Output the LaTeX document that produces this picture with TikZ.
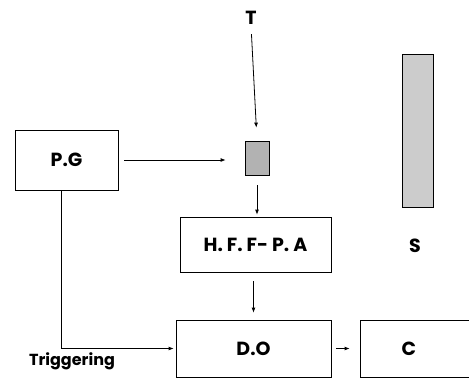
\documentclass[tikz,border=0pt]{standalone}
\usepackage{fontspec}
\setmainfont{Poppins}
\usetikzlibrary{arrows.meta}

\begin{document}
\begin{tikzpicture}[x=1pt,y=-1pt,line width=0.8pt,
  box/.style={draw,inner sep=0pt},
  lbl/.style={inner sep=0pt,font=\fontsize{19}{21}\selectfont\bfseries},
  arr/.style={-{Latex[length=5pt,width=4pt]}}]
\useasboundingbox (0,0) rectangle (469,381);
% blocks
\node[box,minimum width=103,minimum height=60,lbl] (pg) at (66.5,160) {P.G};
\node[box,fill=gray!60,minimum width=24,minimum height=34] (mod) at (257,158) {};
\node[box,minimum width=151,minimum height=55,lbl] (hf) at (255.5,244.5) {H. F. F- P. A};
\node[box,minimum width=155,minimum height=57,lbl] (do) at (253.5,348.5) {D.O};
\node[box,minimum width=114,minimum height=57,lbl,text width=1pt,align=left] (c) at (417,348.5) {\hspace*{-15pt}C};
\node[box,fill=gray!40,minimum width=31,minimum height=153] (bar) at (417.5,130.5) {};
% labels
\node[lbl] (t) at (251,18) {T};
\node[lbl] (s) at (415,246) {S};
\node[lbl,font=\fontsize{16}{18}\selectfont\bfseries] (trig) at (72,361) {Triggering};
% connectors
\draw[arr,shorten <=9pt,shorten >=13pt] (t.south) -- (mod.north);
\draw[arr,shorten <=6pt,shorten >=19pt] (pg.east) -- (pg.east -| mod.west);
\draw[arr,shorten <=10pt,shorten >=2pt] (mod.south) -- (mod.south |- hf.north);
\draw[arr,shorten <=9pt,shorten >=7pt] (hf.south -| do) -- (do.north);
\draw[arr,shorten <=5pt,shorten >=10pt] (do.east) -- (c.west);
\draw[arr,shorten >=2pt] ([xshift=-5pt]pg.south) |- (do.west);
\end{tikzpicture}
\end{document}
